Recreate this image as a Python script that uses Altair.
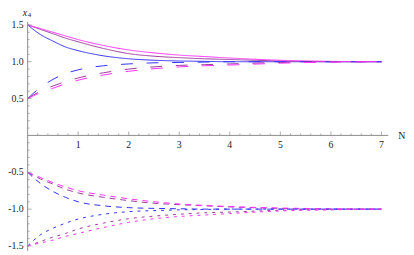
import altair as alt
import pandas as pd

# ---- data ----
N = [0, 0.25, 0.5, 0.75, 1, 1.5, 2, 2.5, 3, 3.5, 4, 5, 6, 7]

# solid curves starting at 1.5
solid_blue    = [1.5, 1.37, 1.28, 1.20, 1.15, 1.08, 1.04, 1.02, 1.01, 1.005, 1.0, 1.0, 1.0, 1.0]
solid_purple  = [1.5, 1.44, 1.38, 1.32, 1.27, 1.18, 1.11, 1.075, 1.055, 1.04, 1.03, 1.01, 1.0, 1.0]
solid_magenta = [1.5, 1.45, 1.40, 1.35, 1.30, 1.22, 1.16, 1.12, 1.09, 1.07, 1.05, 1.02, 1.005, 1.0]

# long dashed curves starting at 0.5
long_blue    = [0.5, 0.65, 0.76, 0.84, 0.89, 0.945, 0.97, 0.985, 0.99, 0.995, 1.0, 1.0, 1.0, 1.0]
long_purple  = [0.5, 0.60, 0.67, 0.73, 0.78, 0.85, 0.90, 0.93, 0.95, 0.96, 0.97, 0.99, 1.0, 1.0]
long_magenta = [0.5, 0.58, 0.64, 0.70, 0.75, 0.82, 0.87, 0.905, 0.93, 0.945, 0.955, 0.98, 0.995, 1.0]

# dashed curves starting at -0.5
dash_blue    = [-0.5, -0.65, -0.76, -0.84, -0.90, -0.955, -0.98, -0.99, -0.995, -1.0, -1.0, -1.0, -1.0, -1.0]
dash_purple  = [-0.5, -0.59, -0.66, -0.73, -0.78, -0.84, -0.885, -0.92, -0.94, -0.955, -0.97, -0.99, -1.0, -1.0]
dash_magenta = [-0.5, -0.57, -0.64, -0.70, -0.75, -0.81, -0.86, -0.90, -0.93, -0.95, -0.965, -0.985, -0.995, -1.0]

# dotted curves starting at -1.5
dot_blue    = [-1.5, -1.35, -1.26, -1.19, -1.135, -1.07, -1.035, -1.02, -1.01, -1.005, -1.0, -1.0, -1.0, -1.0]
dot_purple  = [-1.5, -1.44, -1.38, -1.33, -1.27, -1.19, -1.13, -1.095, -1.07, -1.05, -1.04, -1.015, -1.005, -1.0]
dot_magenta = [-1.5, -1.46, -1.42, -1.37, -1.33, -1.25, -1.18, -1.13, -1.10, -1.08, -1.06, -1.025, -1.01, -1.0]

colors = ["blue", "purple", "magenta"]
styles = ["solid", "long", "dash", "dot"]
series = {
    ("solid", "blue"): solid_blue, ("solid", "purple"): solid_purple, ("solid", "magenta"): solid_magenta,
    ("long", "blue"): long_blue, ("long", "purple"): long_purple, ("long", "magenta"): long_magenta,
    ("dash", "blue"): dash_blue, ("dash", "purple"): dash_purple, ("dash", "magenta"): dash_magenta,
    ("dot", "blue"): dot_blue, ("dot", "purple"): dot_purple, ("dot", "magenta"): dot_magenta,
}

x_major = [1, 2, 3, 4, 5, 6, 7]
x_labels = ["1", "2", "3", "4", "5", "6", "7"]
y_major = [1.5, 1.0, 0.5, -0.5, -1.0, -1.5]
y_labels = ["1.5", "1.0", "0.5", "-0.5", "-1.0", "-1.5"]
x_minor = [round(i * 0.2, 2) for i in range(1, 36) if i % 5 != 0]
y_minor = [round(i * 0.1, 2) for i in range(-15, 16) if i % 5 != 0]

XMAX = 7.136
YMIN, YMAX = -1.567, 1.7

rows = []
for (st, co), vals in series.items():
    for n, v in zip(N, vals):
        rows.append({"N": n, "val": v, "color": co, "style": st, "sid": st + "_" + co})
df = pd.DataFrame(rows)

one = pd.DataFrame({"a": [0]})

xs = alt.Scale(domain=[0, XMAX], nice=False, zero=False)
ys = alt.Scale(domain=[YMIN, YMAX], nice=False, zero=False)

AX = "#8c8c8c"
FONT = "Liberation Serif, Times New Roman, serif"

lines = alt.Chart(df).mark_line(strokeWidth=1, interpolate="monotone").encode(
    x=alt.X("N:Q", scale=xs, axis=None),
    y=alt.Y("val:Q", scale=ys, axis=None),
    color=alt.Color("color:N", scale=alt.Scale(domain=colors, range=["#2f2fff", "#9b3a9b", "#ff30ff"]), legend=None),
    strokeDash=alt.StrokeDash("style:N", scale=alt.Scale(domain=styles, range=[[1, 0], [12, 14], [6, 5], [3, 5]]), legend=None),
    detail="sid:N",
)

xaxis = alt.Chart(one).mark_rule(color=AX, strokeWidth=1).encode(
    x=alt.datum(0), x2=alt.datum(XMAX), y=alt.datum(0))
yaxis = alt.Chart(one).mark_rule(color=AX, strokeWidth=1).encode(
    x=alt.datum(0), y=alt.datum(YMIN), y2=alt.datum(1.54))

xmaj_df = pd.DataFrame({"x": x_major, "lab": x_labels})
xmin_df = pd.DataFrame({"x": x_minor})
ymaj_df = pd.DataFrame({"y": y_major, "lab": y_labels})
ymin_df = pd.DataFrame({"y": y_minor})

xmaj_t = alt.Chart(xmaj_df).mark_tick(orient="vertical", size=4, thickness=1, yOffset=-2, color=AX).encode(
    x=alt.X("x:Q"), y=alt.datum(0))
xmin_t = alt.Chart(xmin_df).mark_tick(orient="vertical", size=2, thickness=1, yOffset=-1, color=AX).encode(
    x=alt.X("x:Q"), y=alt.datum(0))
ymaj_t = alt.Chart(ymaj_df).mark_tick(orient="horizontal", size=4, thickness=1, xOffset=2, color=AX).encode(
    y=alt.Y("y:Q"), x=alt.datum(0))
ymin_t = alt.Chart(ymin_df).mark_tick(orient="horizontal", size=2, thickness=1, xOffset=1, color=AX).encode(
    y=alt.Y("y:Q"), x=alt.datum(0))

xlab = alt.Chart(xmaj_df).mark_text(font=FONT, fontSize=10, color="#222", baseline="middle", align="center", dy=10).encode(
    x=alt.X("x:Q"), y=alt.datum(0), text="lab:N")
ylab = alt.Chart(ymaj_df).mark_text(font=FONT, fontSize=10, color="#222", baseline="middle", align="right", dx=-4).encode(
    y=alt.Y("y:Q"), x=alt.datum(0), text="lab:N")

title_x = alt.Chart(one).mark_text(font=FONT, fontSize=10, fontStyle="italic", color="#222", baseline="middle", align="left", dx=-5, dy=-12, text="x").encode(
    x=alt.datum(0), y=alt.datum(1.5))
title_4 = alt.Chart(one).mark_text(font=FONT, fontSize=7, color="#222", baseline="middle", align="left", dx=0, dy=-10, text="4").encode(
    x=alt.datum(0), y=alt.datum(1.5))
title_n = alt.Chart(one).mark_text(font=FONT, fontSize=10, color="#222", baseline="middle", align="left", dx=10, dy=1, text="N").encode(
    x=alt.datum(XMAX), y=alt.datum(0))

chart = alt.layer(
    lines, xaxis, yaxis, xmin_t, xmaj_t, ymin_t, ymaj_t, xlab, ylab, title_x, title_4, title_n
).resolve_scale(x="shared", y="shared").properties(
    width=367, height=245,
    padding={"left": 20, "top": 0, "right": 18, "bottom": 2},
    autosize=alt.AutoSizeParams(type="none"),
).configure_view(stroke=None)

chart.save("out.html", embed_options={"renderer": "svg", "actions": False})
